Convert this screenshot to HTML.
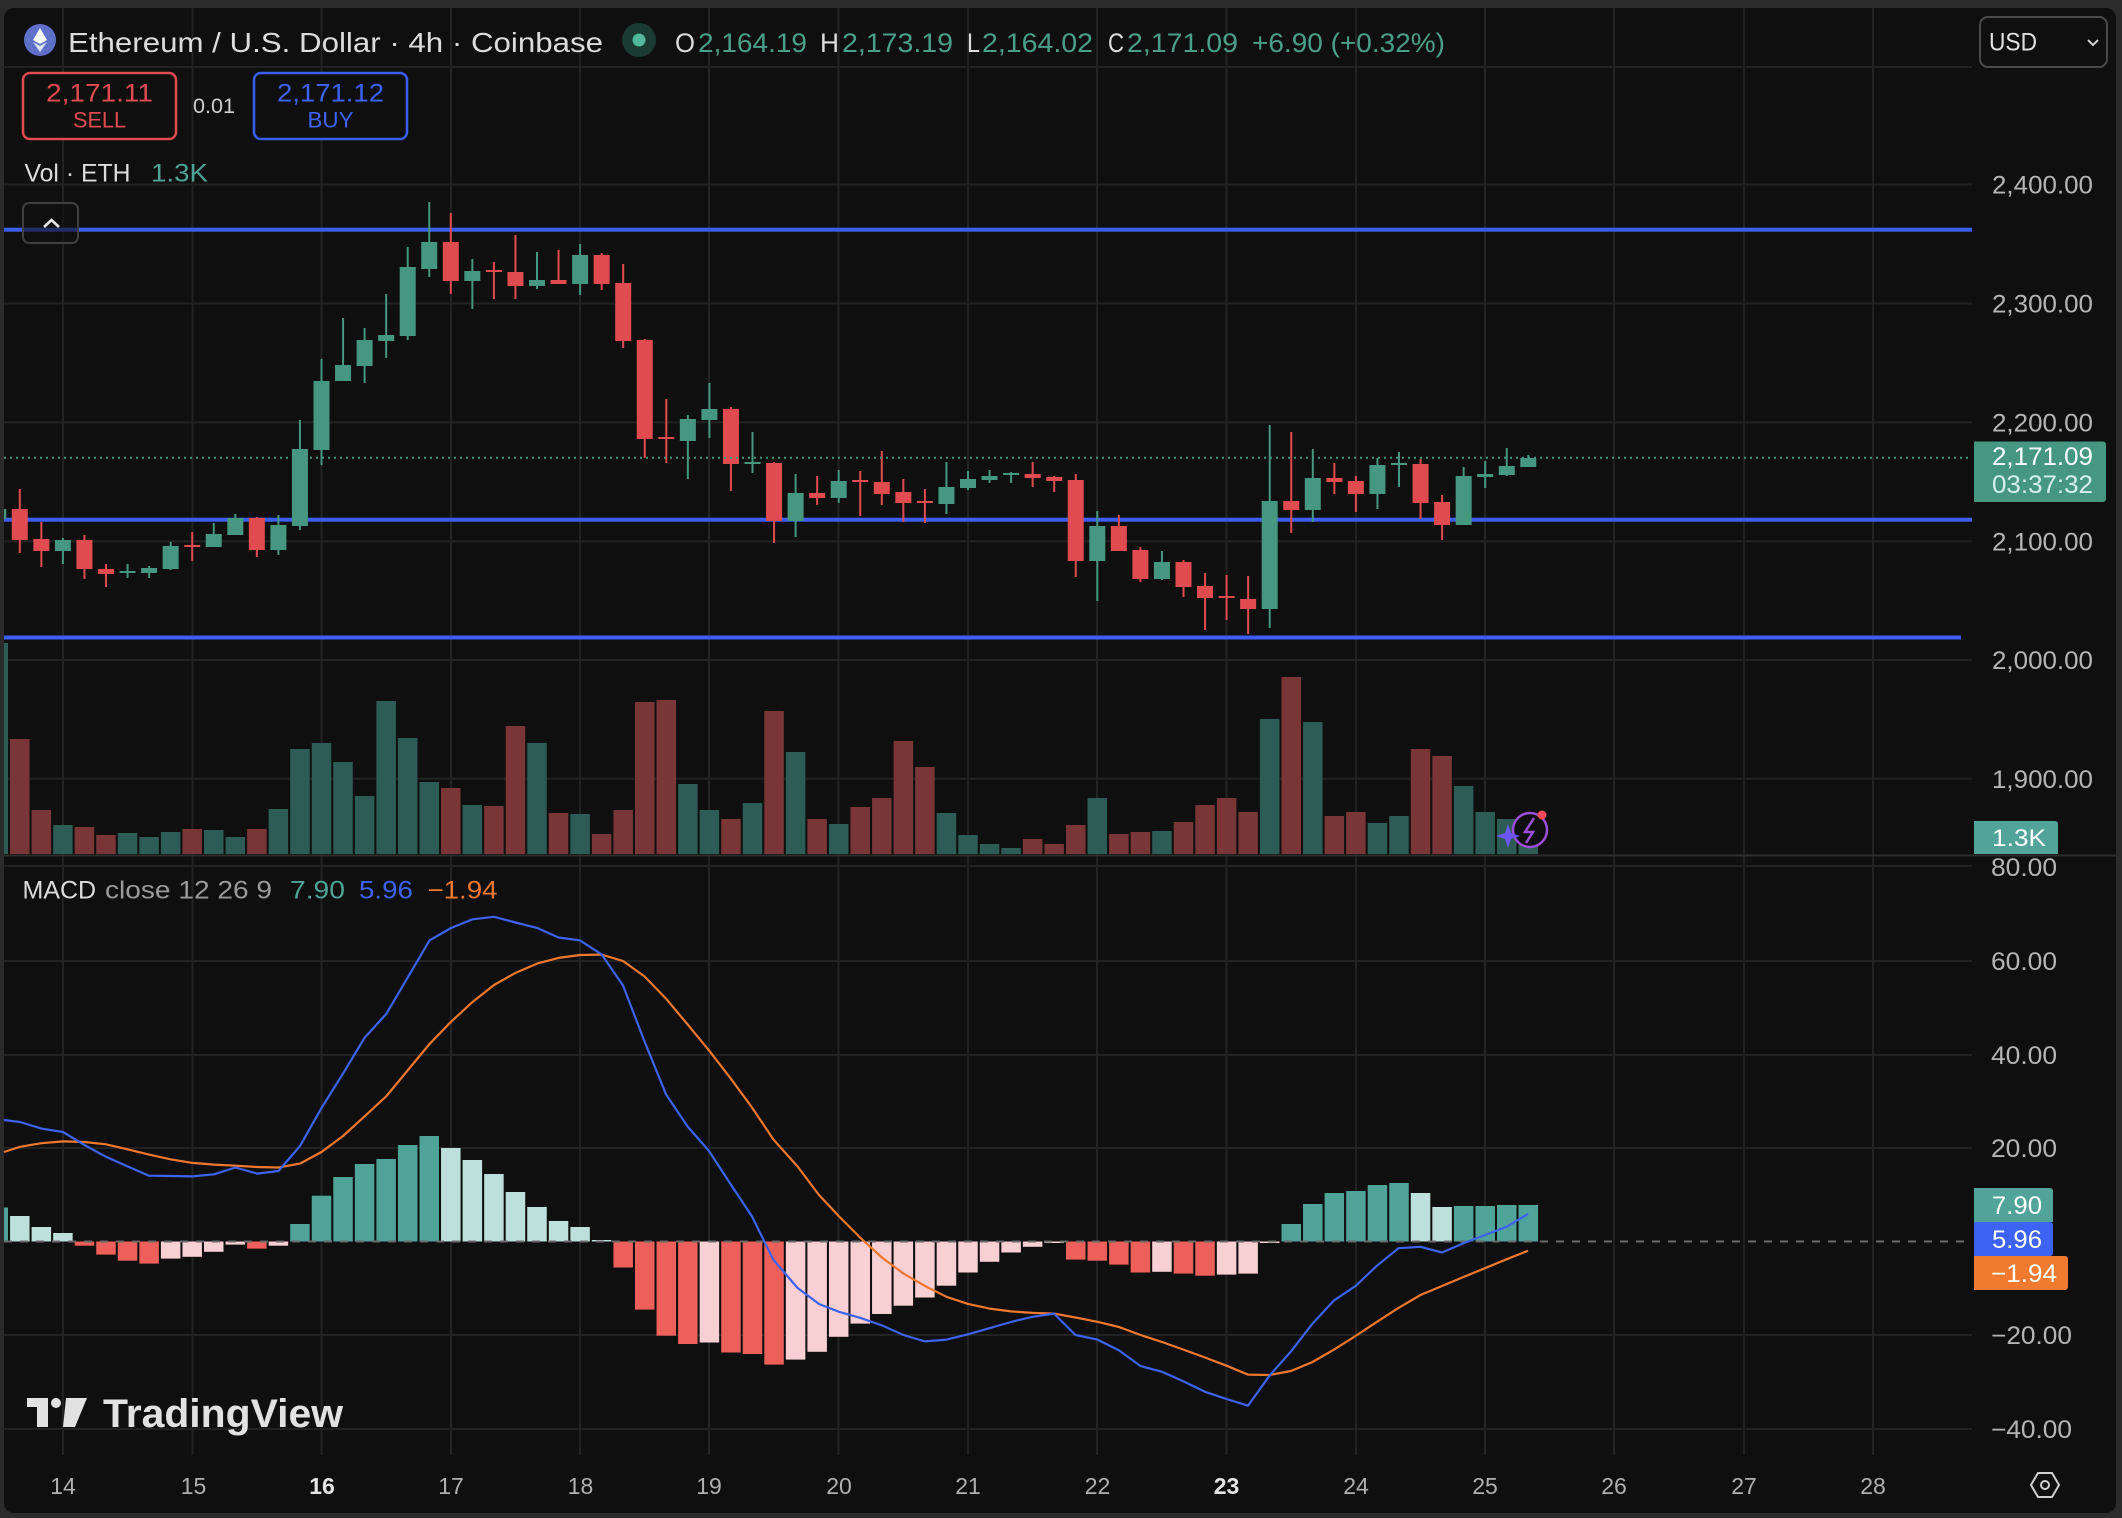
<!DOCTYPE html>
<html><head><meta charset="utf-8"><style>
html,body{margin:0;padding:0;background:#2b2b2b;}
svg{display:block;font-family:"Liberation Sans",Arial,sans-serif;}
.g .w,.g .b{fill:#45977f}.r .w,.r .b{fill:#e04b50}
.g .v{fill:#2d5c56}.r .v{fill:#7a3536}
.T{fill:#50a398}.L{fill:#bde0dc}.R{fill:#ed5f59}.P{fill:#f8cfd3}
.ax{fill:#b5b5b5;font-size:25px}
.tm{fill:#b0b0b0;font-size:23px}
</style></head><body>
<svg width="2122" height="1518" viewBox="0 0 2122 1518" xmlns="http://www.w3.org/2000/svg">
<defs><clipPath id="pc"><rect x="4" y="8" width="1968" height="1447"/></clipPath></defs>
<rect x="0" y="0" width="2122" height="1518" fill="#2b2b2b"/>
<rect x="4" y="8" width="2112" height="1505" rx="10" fill="#0f0f0f"/>

<!-- grid -->
<g stroke="#222" stroke-width="2">
<line x1="63" y1="8" x2="63" y2="1455"/><line x1="192.5" y1="8" x2="192.5" y2="1455"/><line x1="321.5" y1="8" x2="321.5" y2="1455"/><line x1="451" y1="8" x2="451" y2="1455"/><line x1="580" y1="8" x2="580" y2="1455"/><line x1="709" y1="8" x2="709" y2="1455"/><line x1="838.5" y1="8" x2="838.5" y2="1455"/><line x1="968" y1="8" x2="968" y2="1455"/><line x1="1097" y1="8" x2="1097" y2="1455"/><line x1="1226.5" y1="8" x2="1226.5" y2="1455"/><line x1="1356" y1="8" x2="1356" y2="1455"/><line x1="1485" y1="8" x2="1485" y2="1455"/><line x1="1614" y1="8" x2="1614" y2="1455"/><line x1="1744" y1="8" x2="1744" y2="1455"/><line x1="1873" y1="8" x2="1873" y2="1455"/>
<line x1="4" y1="67" x2="1972" y2="67"/><line x1="4" y1="184.5" x2="1972" y2="184.5"/><line x1="4" y1="303.5" x2="1972" y2="303.5"/><line x1="4" y1="422.3" x2="1972" y2="422.3"/><line x1="4" y1="541.3" x2="1972" y2="541.3"/><line x1="4" y1="660" x2="1972" y2="660"/><line x1="4" y1="778.8" x2="1972" y2="778.8"/>
<line x1="4" y1="866" x2="1972" y2="866"/><line x1="4" y1="961" x2="1972" y2="961"/><line x1="4" y1="1055" x2="1972" y2="1055"/><line x1="4" y1="1148" x2="1972" y2="1148"/><line x1="4" y1="1335" x2="1972" y2="1335"/><line x1="4" y1="1429" x2="1972" y2="1429"/>
</g>
<line x1="4" y1="855.5" x2="2116" y2="855.5" stroke="#2e2e2e" stroke-width="2"/>

<!-- blue level lines -->
<g fill="#3d5ef2">
<rect x="4" y="227.7" width="1968" height="4"/>
<rect x="4" y="517.7" width="1968" height="4"/>
<rect x="4" y="635.5" width="1957" height="4"/>
</g>

<!-- columns -->
<g clip-path="url(#pc)">
<g class="g" transform="translate(-1.75 0)"><rect class="v" x="-9.75" y="643" width="19.5" height="211"/><rect class="w" x="-1" y="505" width="2" height="17"/><rect class="b" x="-8" y="509" width="16" height="10"/><rect class="T" x="-9.75" y="1207.5" width="19.5" height="34"/></g>
<g class="r" transform="translate(19.8 0)"><rect class="v" x="-9.75" y="739" width="19.5" height="115"/><rect class="w" x="-1" y="489" width="2" height="64"/><rect class="b" x="-8" y="509" width="16" height="31"/><rect class="L" x="-9.75" y="1216" width="19.5" height="25.5"/></g>
<g class="r" transform="translate(41.35 0)"><rect class="v" x="-9.75" y="810" width="19.5" height="44"/><rect class="w" x="-1" y="522" width="2" height="45"/><rect class="b" x="-8" y="539" width="16" height="12"/><rect class="L" x="-9.75" y="1227" width="19.5" height="14.5"/></g>
<g class="g" transform="translate(62.9 0)"><rect class="v" x="-9.75" y="825" width="19.5" height="29"/><rect class="w" x="-1" y="538" width="2" height="26"/><rect class="b" x="-8" y="540" width="16" height="11"/><rect class="L" x="-9.75" y="1233" width="19.5" height="8.5"/></g>
<g class="r" transform="translate(84.45 0)"><rect class="v" x="-9.75" y="827" width="19.5" height="27"/><rect class="w" x="-1" y="535" width="2" height="44"/><rect class="b" x="-8" y="540" width="16" height="29"/><rect class="R" x="-9.75" y="1241.5" width="19.5" height="4.2"/></g>
<g class="r" transform="translate(106 0)"><rect class="v" x="-9.75" y="835" width="19.5" height="19"/><rect class="w" x="-1" y="564" width="2" height="23"/><rect class="b" x="-8" y="569" width="16" height="5"/><rect class="R" x="-9.75" y="1241.5" width="19.5" height="13.1"/></g>
<g class="g" transform="translate(127.55 0)"><rect class="v" x="-9.75" y="833" width="19.5" height="21"/><rect class="w" x="-1" y="564" width="2" height="14"/><rect class="b" x="-8" y="571" width="16" height="2"/><rect class="R" x="-9.75" y="1241.5" width="19.5" height="19.2"/></g>
<g class="g" transform="translate(149.1 0)"><rect class="v" x="-9.75" y="837" width="19.5" height="17"/><rect class="w" x="-1" y="566" width="2" height="12"/><rect class="b" x="-8" y="568" width="16" height="5"/><rect class="R" x="-9.75" y="1241.5" width="19.5" height="22.1"/></g>
<g class="g" transform="translate(170.65 0)"><rect class="v" x="-9.75" y="832" width="19.5" height="22"/><rect class="w" x="-1" y="542" width="2" height="28"/><rect class="b" x="-8" y="546" width="16" height="23"/><rect class="P" x="-9.75" y="1241.5" width="19.5" height="17.1"/></g>
<g class="r" transform="translate(192.2 0)"><rect class="v" x="-9.75" y="829" width="19.5" height="25"/><rect class="w" x="-1" y="532" width="2" height="29"/><rect class="b" x="-8" y="545" width="16" height="2"/><rect class="P" x="-9.75" y="1241.5" width="19.5" height="15.3"/></g>
<g class="g" transform="translate(213.75 0)"><rect class="v" x="-9.75" y="830" width="19.5" height="24"/><rect class="w" x="-1" y="523" width="2" height="24"/><rect class="b" x="-8" y="534" width="16" height="13"/><rect class="P" x="-9.75" y="1241.5" width="19.5" height="10.3"/></g>
<g class="g" transform="translate(235.3 0)"><rect class="v" x="-9.75" y="837" width="19.5" height="17"/><rect class="w" x="-1" y="514" width="2" height="21"/><rect class="b" x="-8" y="518" width="16" height="17"/><rect class="P" x="-9.75" y="1241.5" width="19.5" height="3.1"/></g>
<g class="r" transform="translate(256.85 0)"><rect class="v" x="-9.75" y="829" width="19.5" height="25"/><rect class="w" x="-1" y="517" width="2" height="40"/><rect class="b" x="-8" y="518" width="16" height="32"/><rect class="R" x="-9.75" y="1241.5" width="19.5" height="7.1"/></g>
<g class="g" transform="translate(278.4 0)"><rect class="v" x="-9.75" y="809" width="19.5" height="45"/><rect class="w" x="-1" y="515" width="2" height="40"/><rect class="b" x="-8" y="525" width="16" height="25"/><rect class="P" x="-9.75" y="1241.5" width="19.5" height="4.2"/></g>
<g class="g" transform="translate(299.95 0)"><rect class="v" x="-9.75" y="749" width="19.5" height="105"/><rect class="w" x="-1" y="420" width="2" height="110"/><rect class="b" x="-8" y="449" width="16" height="77"/><rect class="T" x="-9.75" y="1224" width="19.5" height="17.5"/></g>
<g class="g" transform="translate(321.5 0)"><rect class="v" x="-9.75" y="743" width="19.5" height="111"/><rect class="w" x="-1" y="359" width="2" height="106"/><rect class="b" x="-8" y="381" width="16" height="69"/><rect class="T" x="-9.75" y="1195.7" width="19.5" height="45.8"/></g>
<g class="g" transform="translate(343.05 0)"><rect class="v" x="-9.75" y="762" width="19.5" height="92"/><rect class="w" x="-1" y="318" width="2" height="63"/><rect class="b" x="-8" y="365" width="16" height="16"/><rect class="T" x="-9.75" y="1177" width="19.5" height="64.5"/></g>
<g class="g" transform="translate(364.6 0)"><rect class="v" x="-9.75" y="796" width="19.5" height="58"/><rect class="w" x="-1" y="328" width="2" height="55"/><rect class="b" x="-8" y="340" width="16" height="26"/><rect class="T" x="-9.75" y="1164" width="19.5" height="77.5"/></g>
<g class="g" transform="translate(386.15 0)"><rect class="v" x="-9.75" y="701" width="19.5" height="153"/><rect class="w" x="-1" y="294" width="2" height="64"/><rect class="b" x="-8" y="335" width="16" height="6"/><rect class="T" x="-9.75" y="1159" width="19.5" height="82.5"/></g>
<g class="g" transform="translate(407.7 0)"><rect class="v" x="-9.75" y="738" width="19.5" height="116"/><rect class="w" x="-1" y="247" width="2" height="93"/><rect class="b" x="-8" y="267" width="16" height="69"/><rect class="T" x="-9.75" y="1145" width="19.5" height="96.5"/></g>
<g class="g" transform="translate(429.25 0)"><rect class="v" x="-9.75" y="782" width="19.5" height="72"/><rect class="w" x="-1" y="202" width="2" height="75"/><rect class="b" x="-8" y="242" width="16" height="27"/><rect class="T" x="-9.75" y="1136" width="19.5" height="105.5"/></g>
<g class="r" transform="translate(450.8 0)"><rect class="v" x="-9.75" y="788" width="19.5" height="66"/><rect class="w" x="-1" y="213" width="2" height="81"/><rect class="b" x="-8" y="242" width="16" height="39"/><rect class="L" x="-9.75" y="1148" width="19.5" height="93.5"/></g>
<g class="g" transform="translate(472.35 0)"><rect class="v" x="-9.75" y="805" width="19.5" height="49"/><rect class="w" x="-1" y="259" width="2" height="50"/><rect class="b" x="-8" y="271" width="16" height="10"/><rect class="L" x="-9.75" y="1160" width="19.5" height="81.5"/></g>
<g class="r" transform="translate(493.9 0)"><rect class="v" x="-9.75" y="806" width="19.5" height="48"/><rect class="w" x="-1" y="262" width="2" height="37"/><rect class="b" x="-8" y="270" width="16" height="2"/><rect class="L" x="-9.75" y="1174" width="19.5" height="67.5"/></g>
<g class="r" transform="translate(515.45 0)"><rect class="v" x="-9.75" y="726" width="19.5" height="128"/><rect class="w" x="-1" y="235" width="2" height="64"/><rect class="b" x="-8" y="272" width="16" height="14"/><rect class="L" x="-9.75" y="1192" width="19.5" height="49.5"/></g>
<g class="g" transform="translate(537 0)"><rect class="v" x="-9.75" y="743" width="19.5" height="111"/><rect class="w" x="-1" y="252" width="2" height="37"/><rect class="b" x="-8" y="280" width="16" height="6"/><rect class="L" x="-9.75" y="1207" width="19.5" height="34.5"/></g>
<g class="r" transform="translate(558.55 0)"><rect class="v" x="-9.75" y="813" width="19.5" height="41"/><rect class="w" x="-1" y="250" width="2" height="34"/><rect class="b" x="-8" y="280" width="16" height="4"/><rect class="L" x="-9.75" y="1221" width="19.5" height="20.5"/></g>
<g class="g" transform="translate(580.1 0)"><rect class="v" x="-9.75" y="814" width="19.5" height="40"/><rect class="w" x="-1" y="244" width="2" height="51"/><rect class="b" x="-8" y="255" width="16" height="29"/><rect class="L" x="-9.75" y="1227" width="19.5" height="14.5"/></g>
<g class="r" transform="translate(601.65 0)"><rect class="v" x="-9.75" y="834" width="19.5" height="20"/><rect class="w" x="-1" y="253" width="2" height="37"/><rect class="b" x="-8" y="255" width="16" height="29"/><rect class="L" x="-9.75" y="1240" width="19.5" height="1.5"/></g>
<g class="r" transform="translate(623.2 0)"><rect class="v" x="-9.75" y="810" width="19.5" height="44"/><rect class="w" x="-1" y="264" width="2" height="84"/><rect class="b" x="-8" y="283" width="16" height="58"/><rect class="R" x="-9.75" y="1241.5" width="19.5" height="26"/></g>
<g class="r" transform="translate(644.75 0)"><rect class="v" x="-9.75" y="702" width="19.5" height="152"/><rect class="w" x="-1" y="339" width="2" height="119"/><rect class="b" x="-8" y="340" width="16" height="99"/><rect class="R" x="-9.75" y="1241.5" width="19.5" height="68.1"/></g>
<g class="r" transform="translate(666.3 0)"><rect class="v" x="-9.75" y="700" width="19.5" height="154"/><rect class="w" x="-1" y="399" width="2" height="64"/><rect class="b" x="-8" y="437" width="16" height="2"/><rect class="R" x="-9.75" y="1241.5" width="19.5" height="94.2"/></g>
<g class="g" transform="translate(687.85 0)"><rect class="v" x="-9.75" y="784" width="19.5" height="70"/><rect class="w" x="-1" y="415" width="2" height="64"/><rect class="b" x="-8" y="419" width="16" height="22"/><rect class="R" x="-9.75" y="1241.5" width="19.5" height="102.5"/></g>
<g class="g" transform="translate(709.4 0)"><rect class="v" x="-9.75" y="810" width="19.5" height="44"/><rect class="w" x="-1" y="383" width="2" height="55"/><rect class="b" x="-8" y="409" width="16" height="11"/><rect class="P" x="-9.75" y="1241.5" width="19.5" height="101"/></g>
<g class="r" transform="translate(730.95 0)"><rect class="v" x="-9.75" y="819" width="19.5" height="35"/><rect class="w" x="-1" y="407" width="2" height="84"/><rect class="b" x="-8" y="409" width="16" height="55"/><rect class="R" x="-9.75" y="1241.5" width="19.5" height="111"/></g>
<g class="g" transform="translate(752.5 0)"><rect class="v" x="-9.75" y="803" width="19.5" height="51"/><rect class="w" x="-1" y="432" width="2" height="41"/><rect class="b" x="-8" y="462" width="16" height="2"/><rect class="R" x="-9.75" y="1241.5" width="19.5" height="112.5"/></g>
<g class="r" transform="translate(774.05 0)"><rect class="v" x="-9.75" y="711" width="19.5" height="143"/><rect class="w" x="-1" y="462" width="2" height="81"/><rect class="b" x="-8" y="463" width="16" height="58"/><rect class="R" x="-9.75" y="1241.5" width="19.5" height="123.1"/></g>
<g class="g" transform="translate(795.6 0)"><rect class="v" x="-9.75" y="752" width="19.5" height="102"/><rect class="w" x="-1" y="474" width="2" height="63"/><rect class="b" x="-8" y="493" width="16" height="28"/><rect class="P" x="-9.75" y="1241.5" width="19.5" height="118.1"/></g>
<g class="r" transform="translate(817.15 0)"><rect class="v" x="-9.75" y="819" width="19.5" height="35"/><rect class="w" x="-1" y="476" width="2" height="29"/><rect class="b" x="-8" y="493" width="16" height="5"/><rect class="P" x="-9.75" y="1241.5" width="19.5" height="110.3"/></g>
<g class="g" transform="translate(838.7 0)"><rect class="v" x="-9.75" y="824" width="19.5" height="30"/><rect class="w" x="-1" y="470" width="2" height="33"/><rect class="b" x="-8" y="481" width="16" height="17"/><rect class="P" x="-9.75" y="1241.5" width="19.5" height="95.3"/></g>
<g class="r" transform="translate(860.25 0)"><rect class="v" x="-9.75" y="807" width="19.5" height="47"/><rect class="w" x="-1" y="471" width="2" height="45"/><rect class="b" x="-8" y="480" width="16" height="2"/><rect class="P" x="-9.75" y="1241.5" width="19.5" height="82.1"/></g>
<g class="r" transform="translate(881.8 0)"><rect class="v" x="-9.75" y="798" width="19.5" height="56"/><rect class="w" x="-1" y="451" width="2" height="54"/><rect class="b" x="-8" y="482" width="16" height="12"/><rect class="P" x="-9.75" y="1241.5" width="19.5" height="72.5"/></g>
<g class="r" transform="translate(903.35 0)"><rect class="v" x="-9.75" y="741" width="19.5" height="113"/><rect class="w" x="-1" y="479" width="2" height="43"/><rect class="b" x="-8" y="492" width="16" height="11"/><rect class="P" x="-9.75" y="1241.5" width="19.5" height="64.2"/></g>
<g class="r" transform="translate(924.9 0)"><rect class="v" x="-9.75" y="767" width="19.5" height="87"/><rect class="w" x="-1" y="489" width="2" height="34"/><rect class="b" x="-8" y="501" width="16" height="2"/><rect class="P" x="-9.75" y="1241.5" width="19.5" height="56"/></g>
<g class="g" transform="translate(946.45 0)"><rect class="v" x="-9.75" y="813" width="19.5" height="41"/><rect class="w" x="-1" y="462" width="2" height="52"/><rect class="b" x="-8" y="487" width="16" height="17"/><rect class="P" x="-9.75" y="1241.5" width="19.5" height="44.2"/></g>
<g class="g" transform="translate(968 0)"><rect class="v" x="-9.75" y="835" width="19.5" height="19"/><rect class="w" x="-1" y="471" width="2" height="19"/><rect class="b" x="-8" y="479" width="16" height="9"/><rect class="P" x="-9.75" y="1241.5" width="19.5" height="31"/></g>
<g class="g" transform="translate(989.55 0)"><rect class="v" x="-9.75" y="844" width="19.5" height="10"/><rect class="w" x="-1" y="470" width="2" height="13"/><rect class="b" x="-8" y="476" width="16" height="4"/><rect class="P" x="-9.75" y="1241.5" width="19.5" height="20.3"/></g>
<g class="g" transform="translate(1011.1 0)"><rect class="v" x="-9.75" y="848" width="19.5" height="6"/><rect class="w" x="-1" y="472" width="2" height="11"/><rect class="b" x="-8" y="473" width="16" height="2"/><rect class="P" x="-9.75" y="1241.5" width="19.5" height="11"/></g>
<g class="r" transform="translate(1032.65 0)"><rect class="v" x="-9.75" y="839" width="19.5" height="15"/><rect class="w" x="-1" y="462" width="2" height="25"/><rect class="b" x="-8" y="474" width="16" height="4"/><rect class="P" x="-9.75" y="1241.5" width="19.5" height="5.3"/></g>
<g class="r" transform="translate(1054.2 0)"><rect class="v" x="-9.75" y="844" width="19.5" height="10"/><rect class="w" x="-1" y="476" width="2" height="16"/><rect class="b" x="-8" y="477" width="16" height="4"/><rect class="P" x="-9.75" y="1241.5" width="19.5" height="1.5"/></g>
<g class="r" transform="translate(1075.75 0)"><rect class="v" x="-9.75" y="825" width="19.5" height="29"/><rect class="w" x="-1" y="474" width="2" height="103"/><rect class="b" x="-8" y="480" width="16" height="81"/><rect class="R" x="-9.75" y="1241.5" width="19.5" height="18.1"/></g>
<g class="g" transform="translate(1097.3 0)"><rect class="v" x="-9.75" y="798" width="19.5" height="56"/><rect class="w" x="-1" y="511" width="2" height="90"/><rect class="b" x="-8" y="526" width="16" height="35"/><rect class="R" x="-9.75" y="1241.5" width="19.5" height="19.2"/></g>
<g class="r" transform="translate(1118.85 0)"><rect class="v" x="-9.75" y="834" width="19.5" height="20"/><rect class="w" x="-1" y="515" width="2" height="36"/><rect class="b" x="-8" y="526" width="16" height="25"/><rect class="R" x="-9.75" y="1241.5" width="19.5" height="23.1"/></g>
<g class="r" transform="translate(1140.4 0)"><rect class="v" x="-9.75" y="832" width="19.5" height="22"/><rect class="w" x="-1" y="547" width="2" height="35"/><rect class="b" x="-8" y="550" width="16" height="29"/><rect class="R" x="-9.75" y="1241.5" width="19.5" height="31"/></g>
<g class="g" transform="translate(1161.95 0)"><rect class="v" x="-9.75" y="831" width="19.5" height="23"/><rect class="w" x="-1" y="551" width="2" height="29"/><rect class="b" x="-8" y="562" width="16" height="17"/><rect class="P" x="-9.75" y="1241.5" width="19.5" height="30.3"/></g>
<g class="r" transform="translate(1183.5 0)"><rect class="v" x="-9.75" y="822" width="19.5" height="32"/><rect class="w" x="-1" y="560" width="2" height="37"/><rect class="b" x="-8" y="562" width="16" height="25"/><rect class="R" x="-9.75" y="1241.5" width="19.5" height="32.1"/></g>
<g class="r" transform="translate(1205.05 0)"><rect class="v" x="-9.75" y="805" width="19.5" height="49"/><rect class="w" x="-1" y="573" width="2" height="57"/><rect class="b" x="-8" y="586" width="16" height="12"/><rect class="R" x="-9.75" y="1241.5" width="19.5" height="34.2"/></g>
<g class="r" transform="translate(1226.6 0)"><rect class="v" x="-9.75" y="798" width="19.5" height="56"/><rect class="w" x="-1" y="575" width="2" height="45"/><rect class="b" x="-8" y="596" width="16" height="2"/><rect class="P" x="-9.75" y="1241.5" width="19.5" height="33.1"/></g>
<g class="r" transform="translate(1248.15 0)"><rect class="v" x="-9.75" y="812" width="19.5" height="42"/><rect class="w" x="-1" y="576" width="2" height="58"/><rect class="b" x="-8" y="599" width="16" height="10"/><rect class="P" x="-9.75" y="1241.5" width="19.5" height="32.1"/></g>
<g class="g" transform="translate(1269.7 0)"><rect class="v" x="-9.75" y="719" width="19.5" height="135"/><rect class="w" x="-1" y="425" width="2" height="203"/><rect class="b" x="-8" y="501" width="16" height="108"/><rect class="P" x="-9.75" y="1241.5" width="19.5" height="1.5"/></g>
<g class="r" transform="translate(1291.25 0)"><rect class="v" x="-9.75" y="677" width="19.5" height="177"/><rect class="w" x="-1" y="432" width="2" height="101"/><rect class="b" x="-8" y="501" width="16" height="9"/><rect class="T" x="-9.75" y="1224" width="19.5" height="17.5"/></g>
<g class="g" transform="translate(1312.8 0)"><rect class="v" x="-9.75" y="722" width="19.5" height="132"/><rect class="w" x="-1" y="449" width="2" height="73"/><rect class="b" x="-8" y="478" width="16" height="32"/><rect class="T" x="-9.75" y="1204" width="19.5" height="37.5"/></g>
<g class="r" transform="translate(1334.35 0)"><rect class="v" x="-9.75" y="816" width="19.5" height="38"/><rect class="w" x="-1" y="463" width="2" height="31"/><rect class="b" x="-8" y="478" width="16" height="4"/><rect class="T" x="-9.75" y="1193" width="19.5" height="48.5"/></g>
<g class="r" transform="translate(1355.9 0)"><rect class="v" x="-9.75" y="812" width="19.5" height="42"/><rect class="w" x="-1" y="476" width="2" height="36"/><rect class="b" x="-8" y="481" width="16" height="13"/><rect class="T" x="-9.75" y="1191" width="19.5" height="50.5"/></g>
<g class="g" transform="translate(1377.45 0)"><rect class="v" x="-9.75" y="823" width="19.5" height="31"/><rect class="w" x="-1" y="458" width="2" height="51"/><rect class="b" x="-8" y="465" width="16" height="29"/><rect class="T" x="-9.75" y="1185" width="19.5" height="56.5"/></g>
<g class="g" transform="translate(1399 0)"><rect class="v" x="-9.75" y="816" width="19.5" height="38"/><rect class="w" x="-1" y="452" width="2" height="35"/><rect class="b" x="-8" y="463" width="16" height="2"/><rect class="T" x="-9.75" y="1183" width="19.5" height="58.5"/></g>
<g class="r" transform="translate(1420.55 0)"><rect class="v" x="-9.75" y="749" width="19.5" height="105"/><rect class="w" x="-1" y="459" width="2" height="60"/><rect class="b" x="-8" y="464" width="16" height="39"/><rect class="L" x="-9.75" y="1193" width="19.5" height="48.5"/></g>
<g class="r" transform="translate(1442.1 0)"><rect class="v" x="-9.75" y="756" width="19.5" height="98"/><rect class="w" x="-1" y="495" width="2" height="45"/><rect class="b" x="-8" y="502" width="16" height="23"/><rect class="L" x="-9.75" y="1207" width="19.5" height="34.5"/></g>
<g class="g" transform="translate(1463.65 0)"><rect class="v" x="-9.75" y="786" width="19.5" height="68"/><rect class="w" x="-1" y="467" width="2" height="58"/><rect class="b" x="-8" y="476" width="16" height="49"/><rect class="T" x="-9.75" y="1206" width="19.5" height="35.5"/></g>
<g class="g" transform="translate(1485.2 0)"><rect class="v" x="-9.75" y="812" width="19.5" height="42"/><rect class="w" x="-1" y="461" width="2" height="27"/><rect class="b" x="-8" y="474" width="16" height="3"/><rect class="T" x="-9.75" y="1206" width="19.5" height="35.5"/></g>
<g class="g" transform="translate(1506.75 0)"><rect class="v" x="-9.75" y="819" width="19.5" height="35"/><rect class="w" x="-1" y="448" width="2" height="28"/><rect class="b" x="-8" y="466" width="16" height="9"/><rect class="T" x="-9.75" y="1205" width="19.5" height="36.5"/></g>
<g class="g" transform="translate(1528.3 0)"><rect class="v" x="-9.75" y="845" width="19.5" height="9"/><rect class="w" x="-1" y="455" width="2" height="12"/><rect class="b" x="-8" y="458" width="16" height="9"/><rect class="T" x="-9.75" y="1205" width="19.5" height="36.5"/></g>
</g>

<!-- current price dotted line -->
<line x1="4" y1="457.7" x2="1972" y2="457.7" stroke="#45977f" stroke-width="2" stroke-dasharray="2 4"/>

<!-- MACD zero line & lines -->
<line x1="4" y1="1241.5" x2="1972" y2="1241.5" stroke="#6a6a6a" stroke-width="2" stroke-dasharray="8 8"/>
<polyline fill="none" stroke="#f0782e" stroke-width="2.2" stroke-linejoin="round" points="4,1152 20,1146.8 41.5,1143.2 63,1141.4 84.5,1142 106,1144.3 127.5,1149.3 149,1154.6 170.5,1159.3 192.5,1162.9 214,1164.6 235.5,1165.7 257,1167 278.5,1167.5 300,1163.6 321.5,1152 343,1136 364.5,1116.4 386.5,1096 408,1070 429.5,1044 451,1021.8 472.5,1002 494,985 515.5,972.9 537,963.6 558.5,957.9 580,955 601.5,954.6 623,961 644.5,976.4 666,998.6 687.5,1024.3 709,1050.4 730.5,1078.2 752,1107.5 773.5,1139.6 797.5,1166.4 819,1195 839,1216.4 860.5,1237.9 882,1257.5 903.5,1273.6 925,1286 946.5,1296.8 968,1303.9 989.5,1308.6 1011,1311.4 1032.5,1312.9 1054,1313.6 1075.5,1317.5 1097.5,1321.8 1119,1327 1140.5,1335 1162,1342 1183.5,1349.6 1205,1357.5 1226.5,1365.7 1248,1374.6 1269.5,1375 1291,1371 1312.5,1362 1334,1349.6 1355.5,1336 1377,1321.8 1398.5,1307.9 1420.5,1295 1442,1286 1463.5,1277 1485,1268.2 1506.5,1259.3 1528,1250.7"/>
<polyline fill="none" stroke="#3d63f0" stroke-width="2.2" stroke-linejoin="round" points="4,1120 20,1122 41.5,1128.6 63,1132 84.5,1145 106,1156.8 127.5,1166.4 149,1175.7 170.5,1176 192.5,1176.4 214,1174.3 235.5,1167.5 257,1173.6 278.5,1171 300,1146 321.5,1108 343,1073.6 364.5,1037.9 386.5,1013.6 408,977 429.5,940.4 451,928 472.5,919.3 494,916.8 515.5,922.5 537,927.9 558.5,937.5 580,940.4 601.5,954.3 623,985.4 644.5,1041.4 666,1094.3 687.5,1126.4 709,1151 730.5,1184 752,1216.4 773.5,1260 797.5,1287.9 819,1304 839,1311.8 860.5,1317.9 882,1325.4 903.5,1335 925,1341.4 946.5,1339.6 968,1334.3 989.5,1328.2 1011,1322 1032.5,1316.8 1054,1313.6 1075.5,1335 1097.5,1339.6 1119,1350.4 1140.5,1366 1162,1371.8 1183.5,1381.4 1205,1391.8 1226.5,1399 1248,1405.7 1269.5,1375.7 1291,1351.4 1312.5,1323.6 1334,1300.4 1355.5,1286 1377,1265.7 1398.5,1248.2 1420.5,1246.8 1442,1252.5 1463.5,1243.2 1485,1235 1506.5,1226.8 1528,1214"/>

<!-- header -->
<circle cx="40" cy="40" r="16" fill="#5f70c8"/>
<polygon points="40,28 47,40 40,44 33,40" fill="#ffffff" opacity="0.95"/>
<polygon points="40,46 47,42 40,52 33,42" fill="#ffffff" opacity="0.8"/>
<text x="68" y="52" font-size="28" fill="#dcdcdc" textLength="535" lengthAdjust="spacingAndGlyphs">Ethereum / U.S. Dollar · 4h · Coinbase</text>
<circle cx="639" cy="40" r="17" fill="#1b3a31"/>
<circle cx="639" cy="40" r="6.5" fill="#52b89c"/>
<g font-size="27">
<text x="675" y="52" fill="#dcdcdc" textLength="20" lengthAdjust="spacingAndGlyphs">O</text>
<text x="698" y="52" fill="#4a9f88" textLength="109" lengthAdjust="spacingAndGlyphs">2,164.19</text>
<text x="820" y="52" fill="#dcdcdc" textLength="19" lengthAdjust="spacingAndGlyphs">H</text>
<text x="842" y="52" fill="#4a9f88" textLength="111" lengthAdjust="spacingAndGlyphs">2,173.19</text>
<text x="967" y="52" fill="#dcdcdc" textLength="13" lengthAdjust="spacingAndGlyphs">L</text>
<text x="982" y="52" fill="#4a9f88" textLength="111" lengthAdjust="spacingAndGlyphs">2,164.02</text>
<text x="1108" y="52" fill="#dcdcdc" textLength="16" lengthAdjust="spacingAndGlyphs">C</text>
<text x="1127" y="52" fill="#4a9f88" textLength="111" lengthAdjust="spacingAndGlyphs">2,171.09</text>
<text x="1252" y="52" fill="#4a9f88" textLength="193" lengthAdjust="spacingAndGlyphs">+6.90 (+0.32%)</text>
</g>
<rect x="23" y="73" width="153" height="66" rx="7" fill="#0f0f0f" stroke="#e04b50" stroke-width="2.5"/>
<text x="99.5" y="101.7" font-size="25" fill="#e04b50" text-anchor="middle" textLength="107" lengthAdjust="spacingAndGlyphs">2,171.11</text>
<text x="99.5" y="127.7" font-size="22" fill="#e04b50" text-anchor="middle" textLength="53" lengthAdjust="spacingAndGlyphs">SELL</text>
<text x="193" y="113" font-size="21" fill="#cfcfcf" textLength="42" lengthAdjust="spacingAndGlyphs">0.01</text>
<rect x="254" y="73" width="153" height="66" rx="7" fill="#0f0f0f" stroke="#3a5ef0" stroke-width="2.5"/>
<text x="330.5" y="101.7" font-size="25" fill="#3d63f5" text-anchor="middle" textLength="107" lengthAdjust="spacingAndGlyphs">2,171.12</text>
<text x="330.5" y="127.7" font-size="22" fill="#3d63f5" text-anchor="middle" textLength="46" lengthAdjust="spacingAndGlyphs">BUY</text>
<text x="24.5" y="181.7" font-size="25" fill="#dcdcdc" textLength="106" lengthAdjust="spacingAndGlyphs">Vol · ETH</text>
<text x="151" y="181.7" font-size="25" fill="#4fa395" textLength="57" lengthAdjust="spacingAndGlyphs">1.3K</text>
<rect x="23" y="203" width="55" height="40" rx="6" fill="#0f0f0f" fill-opacity="0.6" stroke="#3f3f3f" stroke-width="2"/>
<polyline points="44,227 51.5,220 59,227" fill="none" stroke="#e8e8e8" stroke-width="2.6"/>

<!-- MACD legend -->
<text y="898.6" font-size="25">
<tspan x="22.5" fill="#dcdcdc">MACD</tspan>
</text>
<text x="105" y="898.6" font-size="25" fill="#9a9a9a" textLength="167" lengthAdjust="spacingAndGlyphs">close 12 26 9</text>
<text x="290" y="898.6" font-size="25" fill="#50a398" textLength="55" lengthAdjust="spacingAndGlyphs">7.90</text>
<text x="359" y="898.6" font-size="25" fill="#3d63f5" textLength="54" lengthAdjust="spacingAndGlyphs">5.96</text>
<text x="427.5" y="898.6" font-size="25" fill="#f0782e" textLength="70" lengthAdjust="spacingAndGlyphs">−1.94</text>

<!-- volume icon -->
<circle cx="1530" cy="830" r="17" fill="#0f0f0f" stroke="#9d4ed8" stroke-width="2.5"/>
<polyline points="1534,818 1525,832 1533,832 1526,843" fill="none" stroke="#9d4ed8" stroke-width="2.5"/>
<polygon points="1508,824 1511,833 1520,836 1511,839 1508,848 1505,839 1496,836 1505,833" fill="#6b55f5"/>
<circle cx="1542" cy="815" r="4.5" fill="#f04a5a"/>

<!-- TradingView logo -->
<g fill="#e2e2e2">
<rect x="27" y="1398" width="21" height="9"/>
<rect x="37" y="1398" width="11" height="29"/>
<circle cx="56" cy="1403" r="5"/>
<polygon points="66,1398 87,1398 75,1427 63,1427"/>
</g>
<text x="103" y="1427" font-size="40" font-weight="bold" fill="#e2e2e2" textLength="240" lengthAdjust="spacingAndGlyphs">TradingView</text>

<!-- price axis -->
<rect x="1980" y="17" width="127" height="50" rx="8" fill="#0f0f0f" stroke="#4a4a4a" stroke-width="2"/>
<text x="1989" y="50.5" font-size="25" fill="#e0e0e0" textLength="48" lengthAdjust="spacingAndGlyphs">USD</text>
<polyline points="2088,40 2093,45 2098,40" fill="none" stroke="#d0d0d0" stroke-width="2"/>
<g class="ax">
<text x="1992" y="193.5" textLength="101" lengthAdjust="spacingAndGlyphs">2,400.00</text>
<text x="1992" y="312.5" textLength="101" lengthAdjust="spacingAndGlyphs">2,300.00</text>
<text x="1992" y="431.3" textLength="101" lengthAdjust="spacingAndGlyphs">2,200.00</text>
<text x="1992" y="550.3" textLength="101" lengthAdjust="spacingAndGlyphs">2,100.00</text>
<text x="1992" y="669" textLength="101" lengthAdjust="spacingAndGlyphs">2,000.00</text>
<text x="1992" y="787.8" textLength="101" lengthAdjust="spacingAndGlyphs">1,900.00</text>
<text x="1991" y="876" textLength="66" lengthAdjust="spacingAndGlyphs">80.00</text>
<text x="1991" y="970" textLength="66" lengthAdjust="spacingAndGlyphs">60.00</text>
<text x="1991" y="1064" textLength="66" lengthAdjust="spacingAndGlyphs">40.00</text>
<text x="1991" y="1157" textLength="66" lengthAdjust="spacingAndGlyphs">20.00</text>
<text x="1991" y="1344" textLength="81" lengthAdjust="spacingAndGlyphs">−20.00</text>
<text x="1991" y="1438" textLength="81" lengthAdjust="spacingAndGlyphs">−40.00</text>
</g>
<path d="M1974,441.5 H2103 a3,3 0 0 1 3,3 V499 a3,3 0 0 1 -3,3 H1974 Z" fill="#45977f"/>
<text x="1992" y="465" font-size="25" fill="#ffffff" textLength="101" lengthAdjust="spacingAndGlyphs">2,171.09</text>
<text x="1992" y="493" font-size="25" fill="#d6efe8" textLength="101" lengthAdjust="spacingAndGlyphs">03:37:32</text>
<path d="M1974,821 H2055 a3,3 0 0 1 3,3 V854 H1974 Z" fill="#52a39a"/>
<text x="1992" y="846" font-size="24" fill="#ffffff" textLength="54" lengthAdjust="spacingAndGlyphs">1.3K</text>
<path d="M1974,1188 H2050 a3,3 0 0 1 3,3 V1222 H1974 Z" fill="#52a39a"/>
<text x="1992" y="1214" font-size="25" fill="#ffffff" textLength="50" lengthAdjust="spacingAndGlyphs">7.90</text>
<path d="M1974,1222 H2050 a3,3 0 0 1 3,3 V1253 a3,3 0 0 1 -3,3 H1974 Z" fill="#3d63f5"/>
<text x="1992" y="1248" font-size="25" fill="#ffffff" textLength="50" lengthAdjust="spacingAndGlyphs">5.96</text>
<path d="M1974,1256 H2065 a3,3 0 0 1 3,3 V1287 a3,3 0 0 1 -3,3 H1974 Z" fill="#f07a30"/>
<text x="1991" y="1282" font-size="25" fill="#ffffff" textLength="66" lengthAdjust="spacingAndGlyphs">−1.94</text>
<polygon points="2031,1485 2038,1473 2052,1473 2059,1485 2052,1497 2038,1497" fill="none" stroke="#d0d0d0" stroke-width="2"/>
<circle cx="2045" cy="1485" r="4" fill="none" stroke="#d0d0d0" stroke-width="2"/>

<!-- time axis -->
<g class="tm" text-anchor="middle">
<text x="63" y="1494">14</text>
<text x="193.5" y="1494">15</text>
<text x="322" y="1494" font-weight="bold" fill="#e4e4e4">16</text>
<text x="451" y="1494">17</text>
<text x="580.5" y="1494">18</text>
<text x="709" y="1494">19</text>
<text x="839" y="1494">20</text>
<text x="968" y="1494">21</text>
<text x="1097.5" y="1494">22</text>
<text x="1226.5" y="1494" font-weight="bold" fill="#e4e4e4">23</text>
<text x="1356" y="1494">24</text>
<text x="1485" y="1494">25</text>
<text x="1614" y="1494">26</text>
<text x="1744" y="1494">27</text>
<text x="1873" y="1494">28</text>
</g>
</svg>
</body></html>
